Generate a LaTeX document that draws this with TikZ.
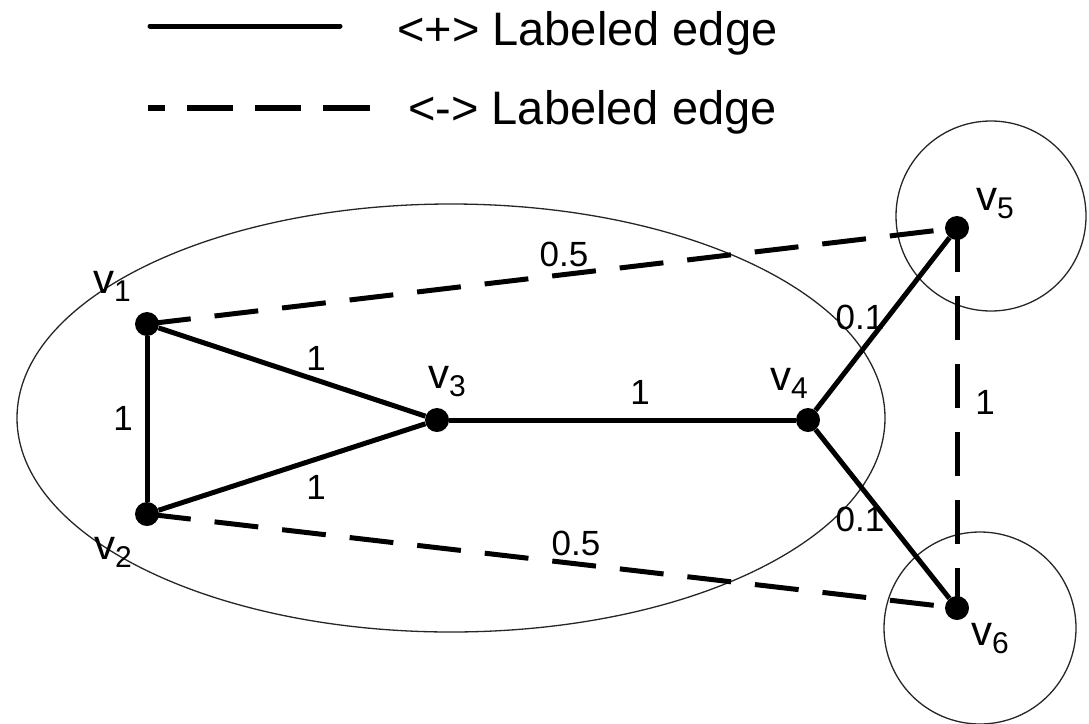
\documentclass[tikz,border=0pt]{standalone}
\usepackage{fontspec}
\setmainfont{Liberation Sans}
\usetikzlibrary{shapes.geometric}
\tikzset{
  vdot/.style={circle, fill=black, inner sep=0pt, minimum size=24pt},
  posedge/.style={line width=5pt},
  negedge/.style={line width=5pt, dash pattern=on 44pt off 24pt},
  grpshape/.style={draw=black!85, line width=1.3pt, inner sep=0pt},
  elabel/.style={inner sep=0pt, font=\fontsize{35}{35}\selectfont},
  vlabel/.style={inner sep=0pt, anchor=base west, font=\fontsize{42}{42}\selectfont},
  legtext/.style={inner sep=0pt, anchor=base west, font=\fontsize{47}{47}\selectfont},
}
\newcommand{\vsub}[1]{v\raisebox{-8pt}{\fontsize{30}{30}\selectfont #1}}
\begin{document}
\begin{tikzpicture}[x=1pt, y=-1pt]
\useasboundingbox (0,0) rectangle (1089,723);
% grouping shapes
\node[grpshape, ellipse, minimum width=868pt, minimum height=428pt] (grp) at (451,418) {};
\node[grpshape, circle, minimum size=190pt] (c5) at (991,216) {};
\node[grpshape, circle, minimum size=192pt] (c6) at (980,628) {};
% legend
\coordinate (ls1) at (150,26);
\coordinate (ls2) at (340,26);
\coordinate (ld1) at (148,108);
\coordinate (ld2) at (370,108);
\draw[line width=5pt, line cap=round] (ls1) -- (ls2);
\draw[line width=6pt, dash pattern=on 17pt off 22pt on 46pt off 22pt on 46pt off 22pt on 47pt off 200pt] (ld1) -- (ld2);
\node[legtext] (lt1) at (397,45) {<+> Labeled edge};
\node[legtext] (lt2) at (408,124) {<-> Labeled edge};
% vertices
\node[vdot] (v1) at (147,324) {};
\node[vdot] (v2) at (147,514) {};
\node[vdot] (v3) at (437,420) {};
\node[vdot] (v4) at (808,420) {};
\node[vdot] (v5) at (957,228) {};
\node[vdot] (v6) at (957,608) {};
% edges
\draw[posedge] (v1) -- (v2);
\draw[posedge] (v1) -- (v3);
\draw[posedge] (v2) -- (v3);
\draw[posedge] (v3) -- (v4);
\draw[posedge] (v4) -- (v5);
\draw[posedge] (v4) -- (v6);
\draw[negedge] (v1.center) -- (v5.center);
\draw[negedge] (v2.center) -- (v6.center);
\draw[negedge] (v5.center) -- (v6.center);
% vertex labels
\node[vlabel] (l1) at (93,293) {\vsub{1}};
\node[vlabel] (l2) at (94,559) {\vsub{2}};
\node[vlabel] (l3) at (428,388) {\vsub{3}};
\node[vlabel] (l4) at (770,390) {\vsub{4}};
\node[vlabel] (l5) at (976,210) {\vsub{5}};
\node[vlabel] (l6) at (971,645) {\vsub{6}};
% edge labels
\node[elabel] (w12) at (123,418) {1};
\node[elabel] (w13) at (316,358) {1};
\node[elabel] (w23) at (316,487) {1};
\node[elabel] (w34) at (640,392) {1};
\node[elabel] (w15) at (564,254) {0.5};
\node[elabel] (w26) at (576,543) {0.5};
\node[elabel] (w45) at (860,317) {0.1};
\node[elabel] (w46) at (860,519) {0.1};
\node[elabel] (w56) at (985,402) {1};
\end{tikzpicture}
\end{document}
